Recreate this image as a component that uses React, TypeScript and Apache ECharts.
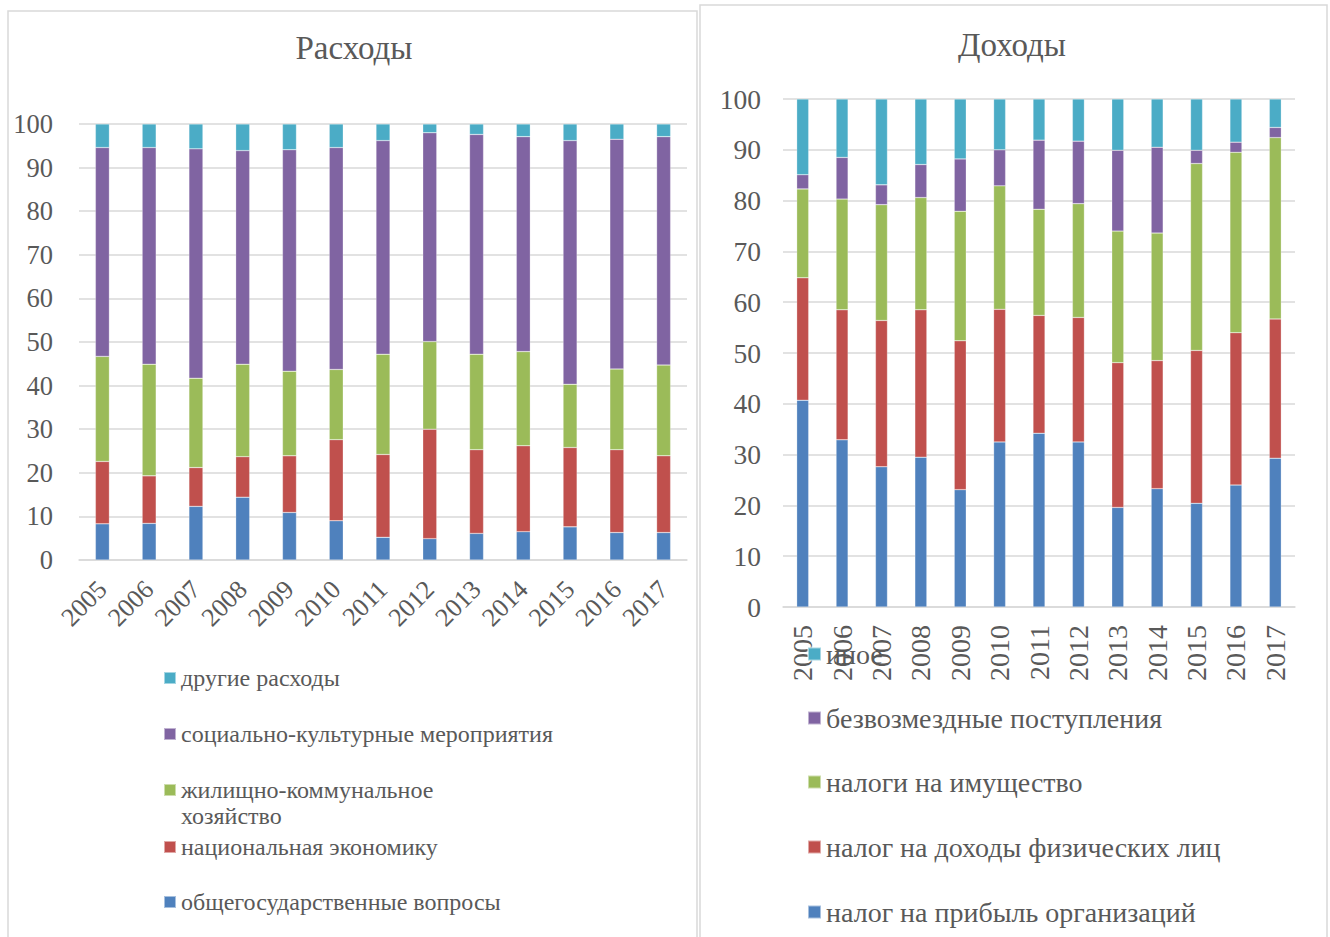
import React, { useEffect, useRef } from "react";
import * as echarts from "echarts";

const years = ["2005", "2006", "2007", "2008", "2009", "2010", "2011", "2012", "2013", "2014", "2015", "2016", "2017"];

// Расходы (left)
const expNames = [
  "общегосударственные вопросы",
  "национальная экономику",
  "жилищно-коммунальное хозяйство",
  "социально-культурные мероприятия",
  "другие расходы",
];
const expGeneral = [8.3, 8.4, 12.3, 14.4, 10.9, 9.0, 5.2, 4.9, 6.1, 6.5, 7.6, 6.3, 6.3];
const expEconomy = [14.3, 10.9, 8.9, 9.3, 13.0, 18.6, 19.0, 25.1, 19.2, 19.7, 18.2, 19.0, 17.6];
const expHousing = [24.1, 25.6, 20.5, 21.2, 19.4, 16.1, 23.0, 20.1, 21.9, 21.6, 14.5, 18.5, 20.8];
const expSocial = [47.9, 49.7, 52.6, 49.0, 50.8, 50.9, 49.0, 47.9, 50.4, 49.3, 55.9, 52.7, 52.4];
const expOther = [5.4, 5.4, 5.7, 6.1, 5.9, 5.4, 3.8, 2.0, 2.4, 2.9, 3.8, 3.5, 2.9];

// Доходы (right)
const incNames = [
  "налог на прибыль организаций",
  "налог на доходы физических лиц",
  "налоги на имущество",
  "безвозмездные поступления",
  "иное",
];
const incProfit = [40.7, 32.9, 27.6, 29.5, 23.1, 32.5, 34.2, 32.5, 19.6, 23.3, 20.4, 24.0, 29.3];
const incPersonal = [24.1, 25.6, 28.8, 29.0, 29.3, 26.1, 23.2, 24.5, 28.5, 25.2, 30.1, 30.0, 27.4];
const incProperty = [17.5, 21.8, 22.8, 22.1, 25.5, 24.3, 20.9, 22.4, 25.9, 25.1, 36.8, 35.5, 35.7];
const incGrants = [2.8, 8.2, 3.9, 6.5, 10.3, 7.1, 13.6, 12.3, 15.9, 16.9, 2.6, 2.0, 2.0];
const incOther = [14.9, 11.5, 16.9, 12.9, 11.8, 10.0, 8.1, 8.3, 10.1, 9.5, 10.1, 8.5, 5.6];

const colors = ["#4F81BD", "#C0504D", "#9BBB59", "#8064A2", "#4BACC6"];
const FONT = "Liberation Serif";
const TXT = "#595959";
const GRID_LINE = "#d9d9d9";

export default function App() {
  const ref = useRef<HTMLDivElement>(null);
  useEffect(() => {
    if (!ref.current) return;
    const chart = echarts.init(ref.current, undefined, { renderer: "svg" });

    const expData = [expGeneral, expEconomy, expHousing, expSocial, expOther];
    const incData = [incProfit, incPersonal, incProperty, incGrants, incOther];

    const series: any[] = [];
    expNames.forEach((n, i) =>
      series.push({
        name: n,
        type: "bar",
        stack: "exp",
        xAxisIndex: 0,
        yAxisIndex: 0,
        barWidth: 14,
        data: expData[i],
        itemStyle: { color: colors[i], borderColor: "rgba(255,255,255,0.5)", borderWidth: 0.5 },
      })
    );
    incNames.forEach((n, i) =>
      series.push({
        name: n,
        type: "bar",
        stack: "inc",
        xAxisIndex: 1,
        yAxisIndex: 1,
        barWidth: 12,
        data: incData[i],
        itemStyle: { color: colors[i], borderColor: "rgba(255,255,255,0.5)", borderWidth: 0.5 },
      })
    );

    const legends: any[] = [];
    const mkLegend = (name: string, left: number, c: number, fs: number, lh: number, icon: number, twoLine?: string) => {
      const lg: any = {
        data: [name],
        left,
        top: twoLine ? c - 1.5 * lh : c - lh / 2,
        orient: "vertical",
        padding: 0,
        itemWidth: icon,
        itemHeight: icon,
        icon: "rect",
        selectedMode: false,
        textStyle: { fontFamily: FONT, fontSize: fs, color: TXT, lineHeight: lh },
      };
      if (twoLine) {
        lg.formatter = () => twoLine;
      }
      return lg;
    };
    // left legend: top-to-bottom
    const leftOrder = [4, 3, 2, 1, 0];
    const leftCenters = [678, 734, 790, 847, 902];
    leftOrder.forEach((idx, k) => {
      legends.push(
        mkLegend(expNames[idx], 163, leftCenters[k], 24, 26, 12,
          idx === 2 ? " \nжилищно-коммунальное\nхозяйство" : undefined)
      );
    });
    const rightOrder = [4, 3, 2, 1, 0];
    const rightCenters = [654, 718, 782, 847, 912];
    rightOrder.forEach((idx, k) => {
      legends.push(mkLegend(incNames[idx], 807, rightCenters[k], 28, 30, 13));
    });

    chart.setOption({
      animation: false,
      backgroundColor: "#ffffff",
      title: [
        {
          text: "Расходы",
          left: 354,
          top: 31,
          textAlign: "center",
          padding: 0,
          textStyle: { fontFamily: FONT, fontSize: 33, fontWeight: "normal", color: TXT },
        },
        {
          text: "Доходы",
          left: 1012,
          top: 28,
          textAlign: "center",
          padding: 0,
          textStyle: { fontFamily: FONT, fontSize: 33, fontWeight: "normal", color: TXT },
        },
      ],
      legend: legends,
      grid: [
        { left: 79, top: 124, width: 608, height: 436, containLabel: false },
        { left: 783, top: 99, width: 512, height: 508, containLabel: false },
      ],
      xAxis: [
        {
          type: "category",
          gridIndex: 0,
          data: years,
          axisLine: { show: true, lineStyle: { color: GRID_LINE, width: 1.5 } },
          axisTick: { show: false },
          axisLabel: { interval: 0, rotate: 45, margin: 25, fontFamily: FONT, fontSize: 26, color: TXT },
        },
        {
          type: "category",
          gridIndex: 1,
          data: years,
          axisLine: { show: true, lineStyle: { color: GRID_LINE, width: 1.5 } },
          axisTick: { show: false },
          axisLabel: { interval: 0, rotate: 90, margin: 18, fontFamily: FONT, fontSize: 28, color: TXT },
        },
      ],
      yAxis: [
        {
          type: "value",
          gridIndex: 0,
          min: 0,
          max: 100,
          interval: 10,
          axisLine: { show: false },
          axisTick: { show: false },
          splitLine: { lineStyle: { color: GRID_LINE, width: 1.5 } },
          axisLabel: { fontFamily: FONT, fontSize: 26.5, color: TXT, margin: 26 },
        },
        {
          type: "value",
          gridIndex: 1,
          min: 0,
          max: 100,
          interval: 10,
          axisLine: { show: false },
          axisTick: { show: false },
          splitLine: { lineStyle: { color: GRID_LINE, width: 1.5 } },
          axisLabel: { fontFamily: FONT, fontSize: 27.5, color: TXT, margin: 22 },
        },
      ],
      graphic: [
        {
          type: "rect",
          silent: true,
          z: -10,
          shape: { x: 8, y: 11, width: 689, height: 940 },
          style: { fill: "none", stroke: "#d9d9d9", lineWidth: 1.5 },
        },
        {
          type: "rect",
          silent: true,
          z: -10,
          shape: { x: 700, y: 5, width: 627, height: 940 },
          style: { fill: "none", stroke: "#d9d9d9", lineWidth: 1.5 },
        },
      ],
      series,
    });

    return () => chart.dispose();
  }, []);

  return (
    <div
      ref={ref}
      style={{ position: "absolute", left: 0, top: 0, width: 1330, height: 937 }}
    />
  );
}
